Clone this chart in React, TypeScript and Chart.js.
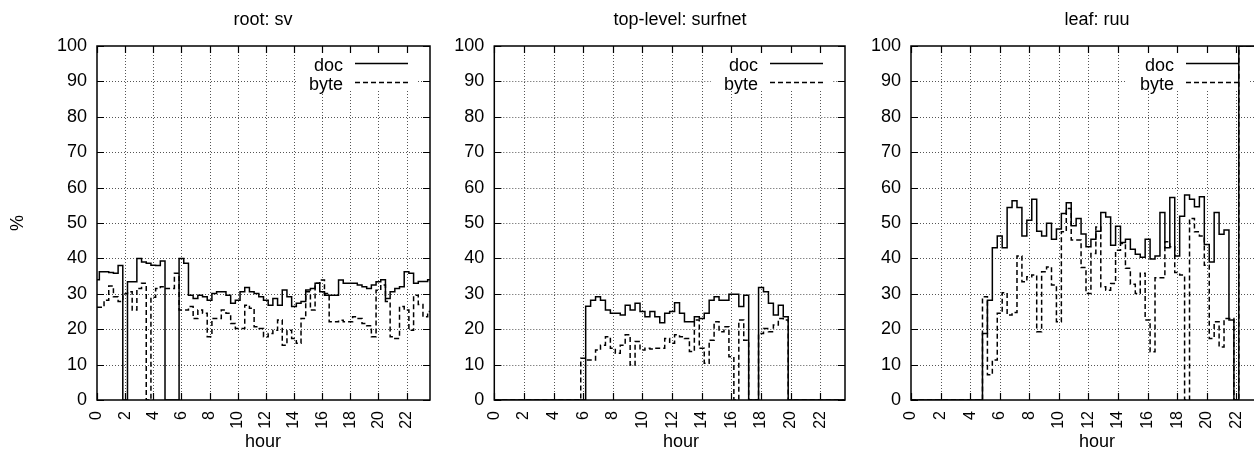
import React, { useEffect, useRef } from 'react';
import { Chart, registerables } from 'chart.js';

Chart.register(...registerables);

// ---------- data ----------
const HOUR_TICKS = [0, 2, 4, 6, 8, 10, 12, 14, 16, 18, 20, 22];
const PCT_TICKS = [0, 10, 20, 30, 40, 50, 60, 70, 80, 90, 100];
// 20-minute bins, 72 per day (hour of bin start)
const BIN_HOURS = Array.from({ length: 72 }, (_, k) => k / 3);

const SV_DOC = [
  34, 36.2, 36.2, 36, 35.8, 38, 0, 33.4, 33.4, 40, 39, 38.6, 38.1, 38, 39.3, 0, 0, 0,
  40, 38.6, 29.6, 28.7, 29.6, 29.2, 28.2, 30.1, 30.6, 30.6, 29.6, 27.3, 28.2, 30.6, 31.8, 30.6,
  30.1, 29.2, 28.2, 26.8, 28.7, 26.8, 31.1, 29.2, 26.4, 27.3, 27.8, 31.1, 31.5, 33, 30.6, 29.6,
  29.6, 29.6, 33.9, 33, 33, 33, 32.5, 32, 31.5, 32.5, 33.4, 34, 28.7, 30.6, 31.5, 32, 36.2,
  35.8, 33, 33.5, 33.5, 34,
];
const SV_BYTE = [
  26.2, 26.2, 28.2, 32.2, 29.2, 27.8, 30, 30.6, 25.4, 31.5, 33, 0, 29, 31.5, 32, 31.5, 31.5, 35.8,
  25.4, 25.4, 26.4, 23, 25.4, 24.5, 17.9, 23, 23, 25.4, 24.5, 21.6, 20.2, 20.2, 26.8, 25.9,
  20.7, 20.2, 17.9, 18.8, 19.7, 22.6, 15.5, 19.7, 17.4, 16, 23, 30.6, 25.4, 33, 33.9, 30.1,
  22.1, 22.1, 22.5, 22.1, 22.1, 23.5, 23, 21.6, 21, 17.9, 31, 32.5, 27.8, 17.9, 17.4, 26.4,
  25.4, 19.7, 29.6, 27, 23.5, 25,
];
const SURFNET_DOC = [
  0, 0, 0, 0, 0, 0, 0, 0, 0, 0, 0, 0, 0, 0, 0, 0, 0, 0, 0,
  26.5, 28.2, 29.2, 28.2, 25.4, 24.5, 24.5, 24, 26.8, 25.4, 27.3, 25, 23.5, 25, 23.5, 21.8,
  24.5, 25, 27.5, 24.5, 22.1, 22.1, 23.5, 23, 24.5, 28.2, 29.2, 28.2, 28.2, 29.9, 29.9, 26.4,
  29.6, 0, 0, 31.8, 30.6, 27.3, 24, 26.8, 23.5,
  0, 0, 0, 0, 0, 0, 0, 0, 0, 0, 0, 0,
];
const SURFNET_BYTE = [
  0, 0, 0, 0, 0, 0, 0, 0, 0, 0, 0, 0, 0, 0, 0, 0, 0, 0,
  11.8, 11.3, 11.3, 14.1, 15.5, 17.9, 14.6, 13.2, 15.5, 18.4, 9.9, 16.5, 14.1, 14.6, 14.4, 14.6,
  14.6, 17.4, 16, 18.4, 17.9, 17.4, 13.7, 22.6, 14.6, 10.4, 16.9, 22.1, 19.3, 20.7, 12.2, 0,
  22.6, 16.9, 0, 0, 18.8, 20.2, 19.3, 21.2, 23, 22.6,
  0, 0, 0, 0, 0, 0, 0, 0, 0, 0, 0, 0,
];
const RUU_DOC = [
  0, 0, 0, 0, 0, 0, 0, 0, 0, 0, 0, 0, 0, 0, 0,
  18.8, 28.2, 43, 46.3, 43, 54.4, 56.3, 54.4, 46.3, 50.8, 56.7, 47.7, 46.3, 49.9, 45.4, 48.3,
  52.7, 55.7, 49.2, 51.3, 46.9, 43.3, 45.4, 47.7, 53, 51.7, 43.7, 49.1, 44.5, 45.4, 42.6, 41.2,
  40.3, 45.4, 39.8, 40.7, 53, 43, 57.2, 40.7, 51.9, 57.9, 56.7, 54.6, 57.4, 43.9, 39, 53, 46.8,
  48, 22.6, 0, 100, 100, 100, 100, 100,
];
const RUU_BYTE = [
  0, 0, 0, 0, 0, 0, 0, 0, 0, 0, 0, 0, 0, 0, 0,
  29.2, 7.1, 11.3, 24.5, 30.3, 24, 24.7, 40.7, 33.4, 34.8, 35.3, 19.3, 36.2, 37.6, 32.5, 22.1,
  47.5, 54.1, 45.2, 45.2, 37.4, 30.1, 41.4, 48.9, 32, 31, 32.9, 42.3, 44.2, 37.2, 32.7, 30.1,
  35.8, 22.6, 13.6, 34.5, 34.5, 44.7, 43.3, 36, 35.3, 0, 51.3, 47.5, 46.3, 38.1, 17.4, 22.1, 15,
  23, 23, 0, 100, 100, 100, 100, 100,
];

const TITLES = ['root: sv', 'top-level: surfnet', 'leaf: ruu'];
const SERIES_NAMES = ['doc', 'byte'];
const X_LABEL = 'hour';
const Y_LABEL = '%';

// ---------- layout ----------
const H = 449;
const PLOT_TOP = 46;
const PLOT_BOTTOM = 400;
const FONT = "'Liberation Sans', Arial, Helvetica, sans-serif";
const FONT_SIZE = 18;
const XTICK_FONT_SIZE = 16;

type PanelSpec = {
  title: string;
  doc: number[];
  byte: number[];
  left: number;
  width: number;
  plotLeft: number;
  plotRight: number;
  titleX: number;
  hourX: number;
  ylabel: boolean;
};

const PANELS: PanelSpec[] = [
  { title: TITLES[0], doc: SV_DOC, byte: SV_BYTE, left: 0, width: 440, plotLeft: 97, plotRight: 430, titleX: 263, hourX: 263, ylabel: true },
  { title: TITLES[1], doc: SURFNET_DOC, byte: SURFNET_BYTE, left: 440, width: 420, plotLeft: 494.3, plotRight: 845, titleX: 680, hourX: 681, ylabel: false },
  { title: TITLES[2], doc: RUU_DOC, byte: RUU_BYTE, left: 860, width: 410, plotLeft: 911, plotRight: 1261, titleX: 1097, hourX: 1097, ylabel: false },
];

const GRID_COLOR = '#555';

const gnuPlugin = {
  id: 'gnu',
  beforeDatasetsDraw(chart: any) {
    const { ctx, chartArea: a, scales } = chart;
    const x = scales.x;
    const y = scales.y;
    ctx.save();
    ctx.strokeStyle = GRID_COLOR;
    ctx.lineWidth = 1;
    ctx.setLineDash([1, 2]);
    for (const v of HOUR_TICKS) {
      if (v === 0) continue;
      const px = Math.round(x.getPixelForValue(v)) + 0.5;
      ctx.beginPath();
      ctx.moveTo(px, a.top);
      ctx.lineTo(px, a.bottom);
      ctx.stroke();
    }
    for (const v of PCT_TICKS) {
      if (v === 0 || v === 100) continue;
      const py = Math.round(y.getPixelForValue(v)) + 0.5;
      ctx.beginPath();
      ctx.moveTo(a.left, py);
      ctx.lineTo(a.right, py);
      ctx.stroke();
    }
    ctx.setLineDash([]);
    // key area is left clear
    ctx.fillStyle = '#fff';
    ctx.fillRect(a.right - 134, a.top + 1, 121, 44);
    ctx.restore();
  },
  afterDatasetsDraw(chart: any) {
    const { ctx, chartArea: a, scales } = chart;
    const x = scales.x;
    const y = scales.y;
    ctx.save();
    // key
    ctx.fillStyle = '#000';
    ctx.font = `${FONT_SIZE}px ${FONT}`;
    ctx.textAlign = 'right';
    ctx.textBaseline = 'alphabetic';
    ctx.fillText(SERIES_NAMES[0], a.right - 87, a.top + 25);
    ctx.fillText(SERIES_NAMES[1], a.right - 87, a.top + 44);
    ctx.strokeStyle = '#000';
    ctx.lineWidth = 1.5;
    ctx.beginPath();
    ctx.moveTo(a.right - 75, a.top + 17.5);
    ctx.lineTo(a.right - 22, a.top + 17.5);
    ctx.stroke();
    ctx.setLineDash([5, 3]);
    ctx.beginPath();
    ctx.moveTo(a.right - 75, a.top + 36.5);
    ctx.lineTo(a.right - 22, a.top + 36.5);
    ctx.stroke();
    ctx.setLineDash([]);
    // border
    ctx.lineWidth = 1.5;
    ctx.strokeRect(a.left, a.top, a.right - a.left, a.bottom - a.top);
    // inward ticks on all four sides
    ctx.lineWidth = 1.2;
    const TL = 7;
    ctx.beginPath();
    for (const v of HOUR_TICKS) {
      const px = Math.round(x.getPixelForValue(v)) + 0.5;
      ctx.moveTo(px, a.bottom);
      ctx.lineTo(px, a.bottom - TL);
      ctx.moveTo(px, a.top);
      ctx.lineTo(px, a.top + TL);
    }
    for (const v of PCT_TICKS) {
      const py = Math.round(y.getPixelForValue(v)) + 0.5;
      ctx.moveTo(a.left, py);
      ctx.lineTo(a.left + TL, py);
      ctx.moveTo(a.right, py);
      ctx.lineTo(a.right - TL, py);
    }
    ctx.stroke();
    ctx.restore();
  },
  afterDraw(chart: any, _args: any, opts: any) {
    const { ctx } = chart;
    ctx.save();
    ctx.fillStyle = '#000';
    ctx.font = `${FONT_SIZE}px ${FONT}`;
    ctx.textAlign = 'center';
    ctx.textBaseline = 'alphabetic';
    ctx.fillText(opts.title, opts.titleX, 25);
    ctx.fillText(X_LABEL, opts.hourX, 447);
    if (opts.ylabel) {
      ctx.translate(18, 223);
      ctx.rotate(-Math.PI / 2);
      ctx.textBaseline = 'middle';
      ctx.fillText(Y_LABEL, 0, 0);
    }
    ctx.restore();
  },
};

function Panel({ p }: { p: PanelSpec }) {
  const ref = useRef<HTMLCanvasElement>(null);
  useEffect(() => {
    const canvas = ref.current;
    if (!canvas) return;
    const chart = new Chart(canvas, {
      type: 'line',
      data: {
        datasets: [
          {
            label: SERIES_NAMES[0],
            data: BIN_HOURS.map((h, k) => ({ x: h, y: p.doc[k] })),
            borderColor: '#000',
            borderWidth: 1.5,
            stepped: 'middle',
            pointRadius: 0,
            fill: false,
          },
          {
            label: SERIES_NAMES[1],
            data: BIN_HOURS.map((h, k) => ({ x: h, y: p.byte[k] })),
            borderColor: '#000',
            borderWidth: 1.5,
            borderDash: [5, 3],
            stepped: 'middle',
            pointRadius: 0,
            fill: false,
          },
        ],
      },
      options: {
        animation: false,
        responsive: false,
        events: [],
        layout: {
          padding: { left: 0, top: PLOT_TOP, bottom: 0, right: p.left + p.width - p.plotRight },
        },
        plugins: {
          legend: { display: false },
          title: { display: false },
          tooltip: { enabled: false },
          gnu: {
            title: p.title,
            titleX: p.titleX - p.left,
            hourX: p.hourX - p.left,
            ylabel: p.ylabel,
          },
        } as any,
        scales: {
          x: {
            type: 'linear',
            min: 0,
            max: BIN_HOURS[BIN_HOURS.length - 1],
            afterBuildTicks: (s: any) => {
              s.ticks = HOUR_TICKS.map((v) => ({ value: v }));
            },
            afterFit: (s: any) => {
              s.height = H - PLOT_BOTTOM;
            },
            grid: { display: false, drawTicks: false, tickLength: 0 },
            border: { display: false },
            ticks: {
              minRotation: 90,
              maxRotation: 90,
              autoSkip: false,
              padding: 11,
              color: '#000',
              font: { family: FONT, size: XTICK_FONT_SIZE },
            },
          },
          y: {
            type: 'linear',
            min: 0,
            max: 100,
            afterBuildTicks: (s: any) => {
              s.ticks = PCT_TICKS.map((v) => ({ value: v }));
            },
            afterFit: (s: any) => {
              s.width = p.plotLeft - p.left;
            },
            grid: { display: false, drawTicks: false, tickLength: 0 },
            border: { display: false },
            ticks: {
              padding: 10,
              color: '#000',
              font: { family: FONT, size: FONT_SIZE },
            },
          },
        },
      } as any,
      plugins: [gnuPlugin as any],
    });
    return () => chart.destroy();
  }, [p]);
  return (
    <canvas
      ref={ref}
      width={p.width}
      height={H}
      style={{ position: 'absolute', left: p.left, top: 0, width: p.width, height: H }}
    />
  );
}

export default function App() {
  return (
    <div
      style={{
        position: 'fixed',
        left: 0,
        top: 0,
        width: 1254,
        height: H,
        overflow: 'hidden',
        background: '#fff',
      }}
    >
      {PANELS.map((p) => (
        <Panel key={p.title} p={p} />
      ))}
    </div>
  );
}
